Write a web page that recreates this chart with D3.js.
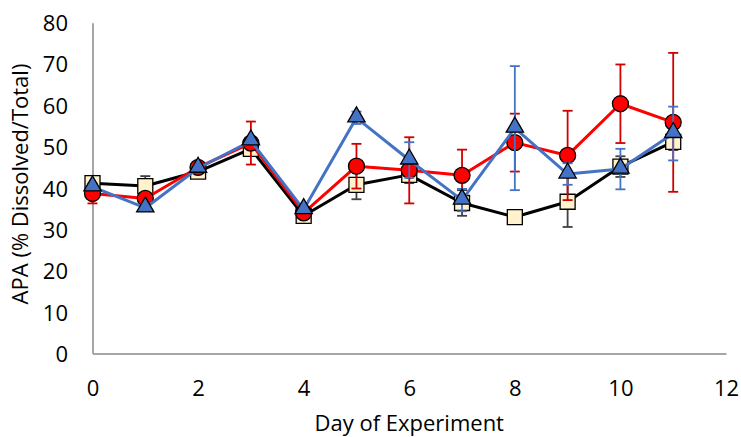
<!DOCTYPE html>
<html>
<head>
<meta charset="utf-8">
<script src="https://cdn.jsdelivr.net/npm/d3@7/dist/d3.min.js"></script>
<style>
  html, body { margin: 0; padding: 0; background: #fff; }
  svg { display: block; }
  text { font-family: "Open Sans", sans-serif; fill: #000; }
</style>
</head>
<body>
<svg id="chart" width="741" height="437"></svg>
<script>
// ---- data ----
const days = [0, 1, 2, 3, 4, 5, 6, 7, 8, 9, 10, 11];
const blackValues = [41.2, 40.5, 44, 49.5, 33.3, 40.8, 43.2, 36.4, 33, 36.7, 45.2, 51.2];
const blackErrors = [0, 2.4, 0, 0, 0, 3.5, 2, 3.1, 0, 6.1, 2.5, 2];
const redValues = [38.7, 37.5, 45, 50.9, 34, 45.3, 44.3, 43.1, 51, 47.9, 60.4, 55.9];
const redErrors = [2.4, 0, 0, 5.2, 0, 5.4, 8, 6.2, 7, 10.8, 9.5, 16.8];
const blueValues = [40.3, 35.2, 44.8, 51.4, 34.8, 57, 46.8, 37.1, 54.5, 43.4, 44.6, 53.2];
const blueErrors = [0, 0, 0, 0, 0, 1.5, 4.3, 2.7, 15, 2.6, 4.9, 6.5];
const xTicks = [0, 2, 4, 6, 8, 10, 12];
const yTicks = [0, 10, 20, 30, 40, 50, 60, 70, 80];
const xTitle = "Day of Experiment";
const yTitle = "APA (% Dissolved/Total)";

// ---- layout ----
const svg = d3.select("#chart");
const x = d3.scaleLinear().domain([0, 12]).range([92.5, 726]);
const y = d3.scaleLinear().domain([0, 80]).range([353.5, 22.7]);

// axes
const axisColor = "#A6A6A6";
const gx = svg.append("g").attr("transform", `translate(0,${y(0)})`)
  .call(d3.axisBottom(x).tickValues(xTicks).tickSize(0).tickPadding(0).tickFormat(d3.format("d")));
gx.select(".domain").attr("stroke", axisColor).attr("stroke-width", 2);
gx.selectAll("text").attr("font-size", 22).attr("font-family", "Open Sans, sans-serif")
  .attr("dy", null).attr("y", 42.5).attr("fill", "#000");

const gy = svg.append("g").attr("transform", `translate(${x(0)},0)`)
  .call(d3.axisLeft(y).tickValues(yTicks).tickSize(0).tickPadding(0).tickFormat(d3.format("d")));
gy.select(".domain").attr("stroke", axisColor).attr("stroke-width", 2);
gy.selectAll("text").attr("font-size", 22).attr("font-family", "Open Sans, sans-serif")
  .attr("x", -24.5).attr("dy", "0.36em").attr("fill", "#000");

// titles
svg.append("text").attr("x", (x(0) + x(12)) / 2).attr("y", 431)
  .attr("text-anchor", "middle").attr("font-size", 22).text(xTitle);
svg.append("text").attr("transform", `translate(28,184) rotate(-90)`)
  .attr("text-anchor", "middle").attr("font-size", 22).text(yTitle);

// series
const series = [
  { name: "black", values: blackValues, errors: blackErrors, line: "#000000", err: "#404040", fill: "#FFF2CC", shape: "square" },
  { name: "red", values: redValues, errors: redErrors, line: "#FF0000", err: "#D00000", fill: "#FF0000", shape: "circle" },
  { name: "blue", values: blueValues, errors: blueErrors, line: "#4472C4", err: "#4472C4", fill: "#4472C4", shape: "triangle" }
];

const lineGen = d3.line().x((d, i) => x(days[i])).y(d => y(d));
const capW = 5;

series.forEach(s => {
  const g = svg.append("g").attr("class", s.name);
  // error bars
  const eb = g.append("g");
  days.forEach((d, i) => {
    const e = s.errors[i];
    if (!e) return;
    const cx = x(d), top = y(s.values[i] + e), bot = y(s.values[i] - e);
    eb.append("line").attr("x1", cx).attr("x2", cx).attr("y1", top).attr("y2", bot)
      .attr("stroke", s.err).attr("stroke-width", 1.8);
    [top, bot].forEach(yy => eb.append("line").attr("x1", cx - capW).attr("x2", cx + capW)
      .attr("y1", yy).attr("y2", yy).attr("stroke", s.err).attr("stroke-width", 1.8));
  });
  // line
  g.append("path").datum(s.values).attr("d", lineGen).attr("fill", "none")
    .attr("stroke", s.line).attr("stroke-width", 3).attr("stroke-linejoin", "round");
  // markers
  const sym = s.shape === "square" ? d3.symbolSquare : s.shape === "circle" ? d3.symbolCircle : d3.symbolTriangle;
  const size = s.shape === "square" ? 15 * 15 : s.shape === "circle" ? Math.PI * 8 * 8 : 130;
  g.selectAll("path.m").data(s.values).enter().append("path").attr("class", "m")
    .attr("d", d3.symbol().type(sym).size(size))
    .attr("transform", (d, i) => `translate(${x(days[i])},${y(d) + (s.shape === "triangle" ? -1 : 0)})`)
    .attr("fill", s.fill).attr("stroke", "#000").attr("stroke-width", 1.3);
});
</script>
</body>
</html>
